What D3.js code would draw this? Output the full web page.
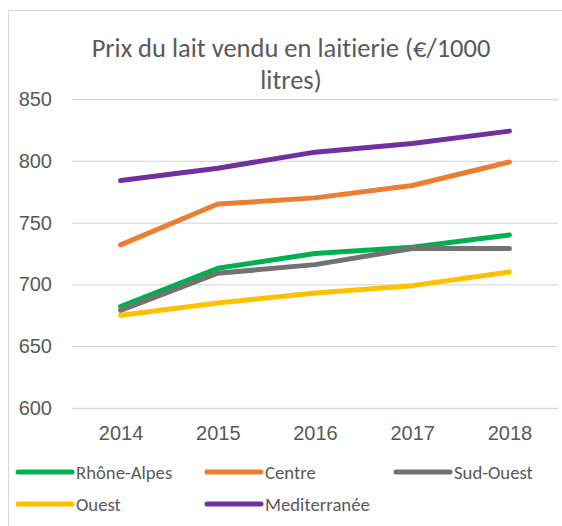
<!DOCTYPE html>
<html>
<head>
<meta charset="utf-8">
<script src="https://cdn.jsdelivr.net/npm/d3@7"></script>
<style>
  body { margin: 0; background: #fff; }
  svg { display: block; font-family: Carlito, Calibri, "Open Sans", sans-serif; font-variant-ligatures: none; }
</style>
</head>
<body>
<script>
// chart data
const years = ["2014", "2015", "2016", "2017", "2018"];
const seriesNames = ["Rhône-Alpes", "Centre", "Sud-Ouest", "Ouest", "Mediterranée"];
const rhoneAlpes = [682, 713, 725, 730, 740];
const centre = [732, 765, 770, 780, 799];
const sudOuest = [679, 709, 716, 729, 729];
const ouest = [675, 685, 693, 699, 710];
const mediterranee = [784, 794, 807, 814, 824];
const yTicks = [600, 650, 700, 750, 800, 850];
const colors = ["#00B050", "#ED7D31", "#767171", "#FFC000", "#7030A0"];

const series = [rhoneAlpes, centre, sudOuest, ouest, mediterranee];

var width = 562, height = 526;
var svg = d3.select("body").append("svg")
    .attr("width", width)
    .attr("height", height);

// chart border
svg.append("rect")
    .attr("x", 8.5).attr("y", 10.5)
    .attr("width", 600).attr("height", 600)
    .attr("fill", "none")
    .attr("stroke", "#d9d9d9");

var x = d3.scalePoint().domain(years).range([72, 558]).padding(0.5);
var y = d3.scaleLinear().domain([600, 850]).range([408, 99]);

// title
var title = svg.append("text")
    .attr("text-anchor", "middle")
    .attr("fill", "#595959")
    .style("font-size", "26.5px");
title.append("tspan").attr("x", 291).attr("y", 57).text("Prix du lait vendu en laitierie (€/1000");
title.append("tspan").attr("x", 291).attr("y", 89).text("litres)");

// gridlines + y labels
var yAxis = svg.append("g")
    .attr("transform", "translate(72,0)")
    .call(d3.axisLeft(y).tickValues(yTicks).tickSize(-(558 - 72)).tickPadding(20));
yAxis.select(".domain").remove();
yAxis.selectAll(".tick line").attr("stroke", "#d9d9d9").attr("stroke-width", 1.3);
yAxis.selectAll(".tick text")
    .attr("fill", "#595959")
    .style("font-size", "20px")
    .style("font-family", null);

// x labels
var xAxis = svg.append("g")
    .attr("transform", "translate(0,408)")
    .call(d3.axisBottom(x).tickSize(0).tickPadding(18));
xAxis.select(".domain").remove();
xAxis.selectAll(".tick text")
    .attr("fill", "#595959")
    .style("font-size", "20px")
    .style("font-family", null);

// lines
var line = d3.line()
    .x(function (d, i) { return x(years[i]); })
    .y(function (d) { return y(d); });

svg.append("g")
    .selectAll("path")
    .data(series)
    .enter().append("path")
    .attr("d", line)
    .attr("fill", "none")
    .attr("stroke", function (d, i) { return colors[i]; })
    .attr("stroke-width", 5)
    .attr("stroke-linecap", "round")
    .attr("stroke-linejoin", "round");

// legend
var legend = svg.append("g")
    .selectAll("g")
    .data(seriesNames)
    .enter().append("g")
    .attr("transform", function (d, i) {
        return "translate(" + (18 + (i % 3) * 189) + "," + (472 + Math.floor(i / 3) * 32) + ")";
    });

legend.append("line")
    .attr("x1", 0).attr("x2", 54)
    .attr("stroke", function (d, i) { return colors[i]; })
    .attr("stroke-width", 5)
    .attr("stroke-linecap", "round");

legend.append("text")
    .attr("x", 58)
    .attr("dy", "0.35em")
    .attr("fill", "#595959")
    .style("font-size", "18.7px")
    .text(function (d) { return d; });
</script>
</body>
</html>
